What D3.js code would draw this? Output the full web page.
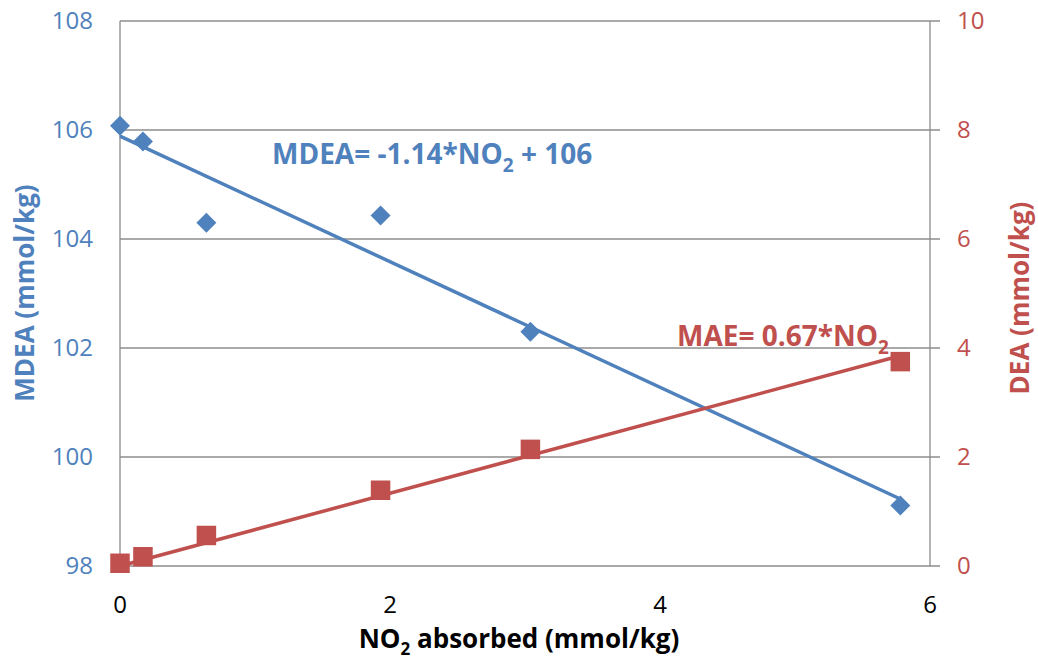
<!DOCTYPE html>
<html>
<head>
<meta charset="utf-8">
<title>MDEA / DEA vs NO2</title>
<script src="https://d3js.org/d3.v7.min.js"></script>
<style>
  body { margin: 0; background: #fff; }
  svg text { font-family: "Open Sans", sans-serif; }
</style>
</head>
<body>
<div id="chart"></div>
<script>
"use strict"
// data
var no2 = [0, 0.17, 0.64, 1.93, 3.04, 5.78]
var mdea = [106.08, 105.79, 104.30, 104.43, 102.30, 99.11]
var dea = [0.05, 0.17, 0.56, 1.39, 2.14, 3.75]
var xTicks = [0, 2, 4, 6]
var yLeftTicks = [98, 100, 102, 104, 106, 108]
var yRightTicks = [0, 2, 4, 6, 8, 10]

var blue = "#4f81bd", red = "#c0504d", grid = "#8c8c8c"
var W = 1038, H = 667
var margin = {top: 21, right: 108, bottom: 101, left: 120}

var svg = d3.select("#chart").append("svg")
  .attr("width", W).attr("height", H)

var x = d3.scaleLinear().domain([0, 6]).range([margin.left, W - margin.right])
var yL = d3.scaleLinear().domain([98, 108]).range([H - margin.bottom, margin.top])
var yR = d3.scaleLinear().domain([0, 10]).range([H - margin.bottom, margin.top])

// horizontal gridlines (reach out past the right axis as ticks)
svg.append("g").selectAll("line").data(yLeftTicks).enter().append("line")
  .attr("x1", x(0)).attr("x2", x(6) + 10)
  .attr("y1", d => yL(d)).attr("y2", d => yL(d))
  .attr("stroke", grid).attr("stroke-width", 1.3)

// vertical axis lines
svg.append("line").attr("x1", x(0)).attr("x2", x(0))
  .attr("y1", yL(108)).attr("y2", yL(98)).attr("stroke", grid).attr("stroke-width", 1.3)
svg.append("line").attr("x1", x(6)).attr("x2", x(6))
  .attr("y1", yR(10)).attr("y2", yR(0)).attr("stroke", grid).attr("stroke-width", 1.3)

// tick labels
svg.append("g").selectAll("text").data(yLeftTicks).enter().append("text")
  .attr("x", 93).attr("y", d => yL(d)).attr("dy", "0.35em")
  .attr("text-anchor", "end").attr("fill", blue).attr("font-size", 24)
  .text(d => d)
svg.append("g").selectAll("text").data(yRightTicks).enter().append("text")
  .attr("x", 957).attr("y", d => yR(d)).attr("dy", "0.35em")
  .attr("text-anchor", "start").attr("fill", red).attr("font-size", 24)
  .text(d => d)
svg.append("g").selectAll("text").data(xTicks).enter().append("text")
  .attr("x", d => x(d)).attr("y", 613)
  .attr("text-anchor", "middle").attr("fill", "#000").attr("font-size", 24)
  .text(d => d)

// axis titles
var xt = svg.append("text").attr("x", (358 + 680) / 2).attr("y", 648)
  .attr("text-anchor", "middle").attr("font-weight", "bold").attr("font-size", 26)
xt.append("tspan").text("NO")
xt.append("tspan").attr("font-size", 17).attr("dy", 7).text("2")
xt.append("tspan").attr("dy", -7).text(" absorbed (mmol/kg)")

svg.append("text")
  .attr("transform", "translate(34,293) rotate(-90)")
  .attr("text-anchor", "middle").attr("font-weight", "bold").attr("font-size", 26)
  .attr("fill", blue).text("MDEA (mmol/kg)")
svg.append("text")
  .attr("transform", "translate(1029,298) rotate(-90)")
  .attr("text-anchor", "middle").attr("font-weight", "bold").attr("font-size", 26)
  .attr("fill", red).text("DEA (mmol/kg)")

// least squares trend lines
var mx = d3.mean(no2), my = d3.mean(mdea)
var slopeM = d3.sum(no2, (v, i) => (v - mx) * (mdea[i] - my)) / d3.sum(no2, v => (v - mx) * (v - mx))
var interM = my - slopeM * mx
var slopeD = d3.sum(no2, (v, i) => v * dea[i]) / d3.sum(no2, v => v * v)
var xEnd = d3.extent(no2)

svg.append("line")
  .attr("x1", x(xEnd[0])).attr("y1", yL(interM + slopeM * xEnd[0]))
  .attr("x2", x(xEnd[1])).attr("y2", yL(interM + slopeM * xEnd[1]))
  .attr("stroke", blue).attr("stroke-width", 3.5)
svg.append("line")
  .attr("x1", x(xEnd[0])).attr("y1", yR(slopeD * xEnd[0]))
  .attr("x2", x(xEnd[1])).attr("y2", yR(slopeD * xEnd[1]))
  .attr("stroke", red).attr("stroke-width", 3.5)

// markers
var diamond = d3.symbol().type(d3.symbolSquare).size(200)
var square = d3.symbol().type(d3.symbolSquare).size(380)
svg.append("g").selectAll("path").data(no2).enter().append("path")
  .attr("d", diamond)
  .attr("transform", (d, i) => "translate(" + x(d) + "," + yL(mdea[i]) + ") rotate(45)")
  .attr("fill", blue)
svg.append("g").selectAll("path").data(no2).enter().append("path")
  .attr("d", square)
  .attr("transform", (d, i) => "translate(" + x(d) + "," + yR(dea[i]) + ")")
  .attr("fill", red)

// equation labels
var e1 = svg.append("text").attr("x", 272).attr("y", 164)
  .attr("font-weight", "bold").attr("font-size", 28).attr("fill", blue)
e1.append("tspan").text("MDEA= -1.14*NO")
e1.append("tspan").attr("font-size", 19).attr("dy", 8).text("2")
e1.append("tspan").attr("dy", -8).text(" + 106")

var e2 = svg.append("text").attr("x", 677).attr("y", 346)
  .attr("font-weight", "bold").attr("font-size", 28).attr("fill", red)
e2.append("tspan").text("MAE= 0.67*NO")
e2.append("tspan").attr("font-size", 19).attr("dy", 8).text("2")
</script>
</body>
</html>
